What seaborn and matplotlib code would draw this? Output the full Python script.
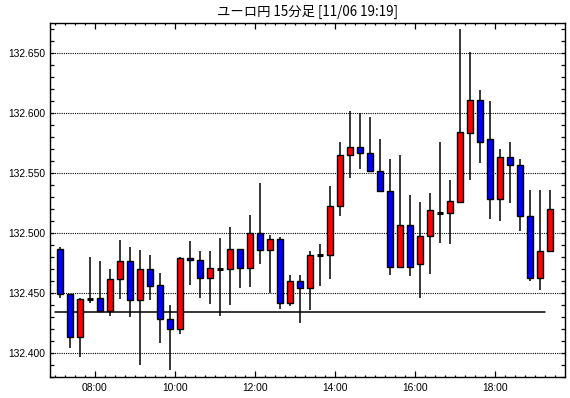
import matplotlib
matplotlib.use("Agg")
import matplotlib.pyplot as plt
import seaborn as sns
import numpy as np
import pandas as pd
from matplotlib.ticker import MultipleLocator, FixedLocator, FormatStrFormatter, NullFormatter

# ---------------- data ----------------
title = "ユーロ円 15分足 [11/06 19:19]"

opens = [132.487, 132.449, 132.413, 132.445, 132.446, 132.435, 132.462, 132.477, 132.444, 132.470,
         132.457, 132.428, 132.420, 132.479, 132.4775, 132.4625, 132.470, 132.470, 132.487, 132.471,
         132.500, 132.486, 132.495, 132.442, 132.460, 132.454, 132.482, 132.482, 132.5225, 132.565,
         132.572, 132.567, 132.552, 132.535, 132.472, 132.507, 132.474, 132.4975, 132.517, 132.517,
         132.526, 132.583, 132.611, 132.578, 132.528, 132.563, 132.557, 132.514, 132.4625, 132.485]
highs = [132.488, 132.449, 132.446, 132.480, 132.477, 132.470, 132.494, 132.488, 132.486, 132.482,
         132.467, 132.440, 132.480, 132.493, 132.485, 132.485, 132.496, 132.505, 132.487, 132.515,
         132.542, 132.498, 132.497, 132.465, 132.465, 132.485, 132.491, 132.539, 132.576, 132.602,
         132.600, 132.597, 132.578, 132.562, 132.565, 132.532, 132.526, 132.533, 132.576, 132.544,
         132.670, 132.651, 132.619, 132.610, 132.570, 132.576, 132.562, 132.536, 132.536, 132.536]
lows = [132.446, 132.404, 132.397, 132.442, 132.434, 132.431, 132.445, 132.430, 132.390, 132.444,
        132.408, 132.386, 132.416, 132.457, 132.446, 132.441, 132.431, 132.440, 132.454, 132.455,
        132.474, 132.450, 132.437, 132.439, 132.425, 132.436, 132.456, 132.462, 132.514, 132.546,
        132.553, 132.551, 132.534, 132.465, 132.471, 132.464, 132.446, 132.466, 132.492, 132.491,
        132.526, 132.544, 132.558, 132.512, 132.510, 132.525, 132.502, 132.460, 132.4525, 132.485]
closes = [132.449, 132.413, 132.445, 132.445, 132.435, 132.462, 132.477, 132.444, 132.470, 132.456,
          132.428, 132.420, 132.479, 132.4775, 132.4625, 132.471, 132.470, 132.487, 132.471, 132.500,
          132.486, 132.495, 132.442, 132.460, 132.454, 132.482, 132.482, 132.5225, 132.565, 132.572,
          132.567, 132.552, 132.535, 132.472, 132.507, 132.472, 132.4975, 132.519, 132.517, 132.527,
          132.584, 132.611, 132.576, 132.528, 132.563, 132.557, 132.514, 132.4625, 132.485, 132.520]

ref_level = 132.434
tick_labels = ["08:00", "10:00", "12:00", "14:00", "16:00", "18:00"]
tick_candle = [4, 12, 20, 28, 36, 44]   # candle index starting at each labelled hour

df = pd.DataFrame({"open": opens, "high": highs, "low": lows, "close": closes})
df["x"] = np.arange(len(df))

# ---------------- style ----------------
sns.set_style("white")
plt.rcParams['font.family'] = ['Liberation Sans', 'DejaVu Sans']

W, H = 570, 398
fig = plt.figure(figsize=(W / 100, H / 100), dpi=100)
L, R, T, B = 49.5, 565, 22.5, 377
ax = fig.add_axes([L / W, 1 - B / H, (R - L) / W, (B - T) / H])

RED = "#FF0000"
BLUE = "#0000FF"
bw = 0.68

# reference line
sns.lineplot(x=[-0.5, len(df) - 1.5], y=[ref_level, ref_level], ax=ax, color="black",
             linewidth=1.1, zorder=2)

# wicks
ax.vlines(df["x"], df["low"], df["high"], color="black", linewidth=1.1, zorder=3)

# bodies
for _, r in df.iterrows():
    o, c = r["open"], r["close"]
    if abs(c - o) < 0.0005:
        ax.hlines(o, r["x"] - bw / 2, r["x"] + bw / 2, color="black", linewidth=2.2, zorder=4)
    else:
        col = RED if c > o else BLUE
        ax.bar(r["x"], abs(c - o), bottom=min(o, c), width=bw, color=col,
               edgecolor="black", linewidth=1.0, zorder=4)

# axes limits
ax.set_xlim(-1.05, 50.5)
ax.set_ylim(132.380, 132.6754)

# y ticks
ax.yaxis.set_major_locator(MultipleLocator(0.05))
ax.yaxis.set_minor_locator(MultipleLocator(0.01))
ax.yaxis.set_major_formatter(FormatStrFormatter("%.3f"))

# x ticks at period boundaries
ax.xaxis.set_major_locator(FixedLocator([i - 0.5 for i in tick_candle]))
ax.set_xticklabels(tick_labels)
ax.xaxis.set_minor_locator(FixedLocator([i - 0.5 for i in range(0, len(df) + 1)]))
ax.xaxis.set_minor_formatter(NullFormatter())

ax.tick_params(axis="both", which="both", direction="in", top=True, right=True,
               left=True, bottom=True, colors="black", labelsize=7.4, width=0.9)
ax.tick_params(axis="x", which="major", length=4, pad=4)
ax.tick_params(axis="x", which="minor", length=1.6)
ax.tick_params(axis="y", which="major", length=3, pad=3)
ax.tick_params(axis="y", which="minor", length=3)

ax.grid(False)
ax.yaxis.grid(True, which="major", linestyle=(0, (1, 1)), color="black", linewidth=0.8)
ax.set_axisbelow(True)

for s in ax.spines.values():
    s.set_color("black")
    s.set_linewidth(1.0)

ax.set_xlabel("")
ax.set_ylabel("")

fig.text((L + R) / 2 / W, 1 - 11.5 / H, title, ha="center", va="center",
         fontsize=9.6, family=['Noto Sans CJK JP', 'DejaVu Sans'], color="black")

fig.savefig("out.png", dpi=100, facecolor="white")
